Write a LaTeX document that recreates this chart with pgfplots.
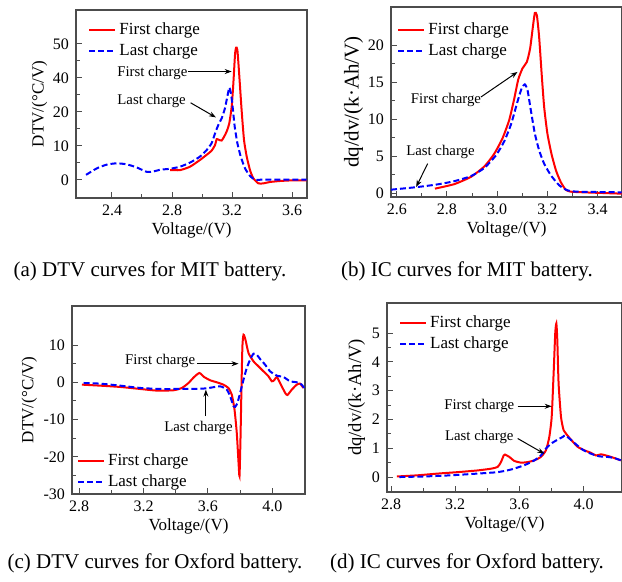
\documentclass[border=0pt]{standalone}
\usepackage{fontspec}
\setmainfont{Liberation Serif}
\usepackage{pgfplots}
\pgfplotsset{compat=1.18}
\usetikzlibrary{arrows.meta}

\definecolor{fc}{RGB}{255,0,0}
\definecolor{lc}{RGB}{0,0,255}

\pgfplotsset{
  panel/.style={
    scale only axis, anchor=south west,
    axis line style={black!70, line width=0.6pt},
    tick style={black!70, line width=0.5pt},
    tick align=inside, tick pos=left,
    major tick length=3pt, minor tick length=1.8pt,
    minor x tick num=1, minor y tick num=1,
    /pgf/number format/assume math mode=true,
    tick label style={font=\fontsize{8}{9}\selectfont},
    xticklabel style={/pgf/number format/.cd, fixed, fixed zerofill, precision=1},
    label style={font=\fontsize{8.5}{9}\selectfont},
    xlabel={Voltage/(V)},
    xlabel style={yshift=3.5pt},
    legend cell align=left,
    legend style={draw=none, fill=none, font=\fontsize{8.5}{9}\selectfont,
      inner sep=0pt, row sep=2.3pt, column sep=1pt, nodes={inner sep=0.5pt}},
    legend image code/.code={\draw[#1] (0pt,0pt) -- (13pt,0pt);},
  },
  first/.style={fc, line width=1pt, smooth, tension=0.35},
  last/.style={lc, line width=1pt, dash pattern=on 3pt off 1.5pt, smooth, tension=0.35},
}
\tikzset{
  note/.style={font=\fontsize{7.4}{8}\selectfont, inner sep=0pt},
  pointer/.style={-{Stealth[length=3.5pt,width=2.5pt]}, line width=0.5pt},
}

\begin{document}
\begin{tikzpicture}
\useasboundingbox (0,0) rectangle (311pt,291pt);

% (a) DTV, MIT
\begin{axis}[panel, at={(38pt,192pt)}, width=115.5pt, height=94pt,
  xmin=2.16, xmax=3.7, ymin=-5.3, ymax=50,
  xtick={2.4,2.8,3.2,3.6},
  ytick={0,10,20,30,40}, yticklabels={0,10,20,40,50},
  ylabel={DTV/(°C/V)}, ylabel style={yshift=-4pt},
  legend style={at={(0.052,0.94)}, anchor=north west}]
\addplot[first] coordinates {
(2.787,2.9) (2.853,2.9) (2.92,3.9) (2.987,5.9) (3.031,7.4) (3.064,8.6)
(3.087,10.3) (3.098,12.0) (3.113,11.8) (3.131,11.6) (3.147,12.7) (3.164,14.2)
(3.182,16.7) (3.198,21.6) (3.209,28.4) (3.22,36.8) (3.227,38.9) (3.236,38.2)
(3.249,30.4) (3.264,20.6) (3.28,11.8) (3.298,6.9) (3.32,2.9) (3.342,0.5)
(3.376,-1.0) (3.409,-1.0) (3.453,-0.6) (3.52,-0.3) (3.609,-0.1) (3.698,-0.1)
};
\addlegendentry{First charge}
\addplot[last] coordinates {
(2.227,1.5) (2.298,3.4) (2.364,4.5) (2.431,4.9) (2.498,4.6) (2.564,3.7)
(2.631,2.4) (2.676,2.5) (2.72,3.0) (2.787,3.3) (2.853,3.9) (2.92,5.1)
(2.987,6.9) (3.031,8.8) (3.064,10.8) (3.087,13.7) (3.109,16.2) (3.131,18.1)
(3.153,21.1) (3.171,25.0) (3.182,27.2) (3.193,25.5) (3.204,21.6) (3.218,15.7)
(3.236,10.8) (3.258,6.9) (3.287,3.4) (3.32,1.2) (3.353,0.1) (3.431,0.1) (3.698,0.1)
};
\addlegendentry{Last charge}
\node[note] at (axis cs:2.669,31.6) {First charge};
\draw[pointer] (axis cs:2.909,31.9) -- (axis cs:3.198,31.9);
\node[note] at (axis cs:2.664,23.3) {Last charge};
\draw[pointer] (axis cs:2.924,22.7) -- (axis cs:3.093,18.4);
\end{axis}

% (b) IC, MIT
\begin{axis}[panel, at={(195.5pt,192.5pt)}, width=115.5pt, height=95pt,
  xmin=2.577, xmax=3.497, ymin=-0.54, ymax=25.2,
  xtick={2.6,2.8,3.0,3.2,3.4}, ytick={0,5,10,15,20},
  ylabel={dq/dv/(k·Ah/V)},
  ylabel style={font=\fontsize{10.5}{11}\selectfont, yshift=-4.5pt},
  legend style={at={(0.026,0.926)}, anchor=north west}]
\addplot[first] coordinates {
(2.752,0.59) (2.829,1.2) (2.896,2.2) (2.949,3.6) (2.988,5.3) (3.021,7.4)
(3.048,9.9) (3.068,12.8) (3.084,15.4) (3.101,16.9) (3.118,17.75) (3.131,19.56)
(3.142,22.49) (3.15,24.39) (3.158,24.07) (3.167,21.14) (3.177,16.17) (3.187,11.65)
(3.2,8.04) (3.216,5.33) (3.234,3.07) (3.253,1.49) (3.273,0.45) (3.293,0.18)
(3.346,0.09) (3.496,-0.09)
};
\addlegendentry{First charge}
\addplot[last] coordinates {
(2.577,0.45) (2.683,0.81) (2.763,1.17) (2.829,1.6) (2.896,2.3) (2.949,3.4)
(2.995,5.1) (3.028,7.0) (3.055,9.3) (3.081,12.4) (3.097,14.14) (3.11,14.72)
(3.121,13.91) (3.134,11.2) (3.15,8.04) (3.167,5.78) (3.187,3.97) (3.214,2.39)
(3.247,1.04) (3.28,0.36) (3.32,0.18) (3.496,0.09)
};
\addlegendentry{Last charge}
\node[note] at (axis cs:2.796,12.56) {First charge};
\draw[pointer] (axis cs:2.935,13.0) -- (axis cs:3.081,16.4);
\node[note] at (axis cs:2.774,5.56) {Last charge};
\draw[pointer] (axis cs:2.723,3.97) -- (axis cs:2.677,0.81);
\end{axis}

% (c) DTV, Oxford
\begin{axis}[panel, at={(36pt,44pt)}, width=116.5pt, height=94pt,
  xmin=2.755, xmax=4.203, ymin=-30, ymax=20.5,
  xtick={2.8,3.2,3.6,4.0}, ytick={-30,-20,-10,0,10},
  ylabel={DTV/(°C/V)}, ylabel style={yshift=-3.5pt},
  legend style={at={(0.02,0.016)}, anchor=south west}]
\addplot[first] coordinates {
(2.817,-0.63) (2.93,-0.9) (3.055,-1.25) (3.179,-1.79) (3.282,-2.23) (3.386,-2.14)
(3.438,-1.52) (3.479,-0.18) (3.514,1.43) (3.547,2.5) (3.576,1.43) (3.614,0.54)
(3.655,0) (3.696,-0.63) (3.727,-1.52) (3.748,-3.31) (3.765,-7.33) (3.779,-13.6)
(3.79,-21.6) (3.796,-25.2) (3.802,-15.4) (3.808,-1.97) (3.814,9.65) (3.821,12.78)
(3.833,11.44) (3.852,7.86) (3.883,5.63) (3.914,4.29) (3.945,2.95) (3.976,1.61)
(3.997,0.27) (4.011,0.54) (4.028,1.43) (4.048,-0.18) (4.08,-2.86) (4.094,-3.4)
(4.121,-1.97) (4.152,-0.63) (4.172,-0.36) (4.193,-1.52)
};
\addlegendentry{First charge}
\addplot[last] coordinates {
(2.827,-0.18) (2.93,-0.36) (3.055,-0.9) (3.179,-1.52) (3.303,-1.79) (3.427,-1.79)
(3.51,-1.79) (3.593,-1.61) (3.675,-1.07) (3.717,-1.97) (3.738,-3.75) (3.759,-6.43)
(3.769,-6.6) (3.783,-5.54) (3.8,-2.86) (3.821,0.71) (3.841,3.84) (3.862,6.08)
(3.883,7.69) (3.903,7.42) (3.924,6.26) (3.955,4.74) (3.986,2.95) (4.028,1.79)
(4.069,1.43) (4.11,0.27) (4.152,0) (4.183,-0.63) (4.197,-1.52)
};
\addlegendentry{Last charge}
\node[note] at (axis cs:3.303,5.63) {First charge};
\draw[pointer] (axis cs:3.531,5.0) -- (axis cs:3.79,5.0);
\node[note] at (axis cs:3.541,-12.24) {Last charge};
\draw[pointer] (axis cs:3.587,-9.1) -- (axis cs:3.587,-1.97);
\end{axis}

% (d) IC, Oxford
\begin{axis}[panel, at={(193.5pt,45pt)}, width=117.5pt, height=94.5pt,
  xmin=2.775, xmax=4.239, ymin=-0.52, ymax=6.05,
  xtick={2.8,3.2,3.6,4.0}, ytick={0,1,2,3,4,5},
  ylabel={dq/dv/(k·Ah/V)},
  ylabel style={font=\fontsize{9.3}{10}\selectfont, yshift=-3.5pt},
  legend style={at={(0.05,0.942)}, anchor=north west}]
\addplot[first] coordinates {
(2.837,0.02) (2.966,0.06) (3.091,0.12) (3.215,0.17) (3.34,0.23) (3.423,0.29)
(3.464,0.35) (3.485,0.52) (3.502,0.75) (3.51,0.78) (3.537,0.7) (3.568,0.56)
(3.61,0.5) (3.651,0.52) (3.693,0.58) (3.734,0.7) (3.765,0.93) (3.786,1.39)
(3.801,2.09) (3.813,3.6) (3.823,4.99) (3.83,5.34) (3.836,4.76) (3.844,3.25)
(3.859,2.09) (3.875,1.63) (3.89,1.51) (3.921,1.3) (3.963,1.05) (4.004,0.93)
(4.046,0.84) (4.077,0.75) (4.108,0.79) (4.139,0.75) (4.17,0.7) (4.232,0.58)
};
\addlegendentry{First charge}
\addplot[last] coordinates {
(2.852,0) (3.008,0.02) (3.174,0.06) (3.34,0.12) (3.464,0.17) (3.547,0.26)
(3.63,0.41) (3.693,0.58) (3.734,0.75) (3.765,0.99) (3.797,1.16) (3.838,1.3)
(3.869,1.39) (3.884,1.45) (3.911,1.34) (3.952,1.14) (3.994,0.95) (4.046,0.81)
(4.097,0.72) (4.149,0.7) (4.191,0.66) (4.232,0.58)
};
\addlegendentry{Last charge}
\node[note] at (axis cs:3.35,2.46) {First charge};
\draw[pointer] (axis cs:3.589,2.46) -- (axis cs:3.801,2.46);
\node[note] at (axis cs:3.35,1.39) {Last charge};
\draw[pointer] (axis cs:3.589,1.34) -- (axis cs:3.755,0.81);
\end{axis}

\node[font=\fontsize{10.5}{12}\selectfont] at (75pt,155.5pt) {(a) DTV curves for MIT battery.};
\node[font=\fontsize{10.5}{12}\selectfont] at (233.5pt,155.5pt) {(b) IC curves for MIT battery.};
\node[font=\fontsize{10.5}{12}\selectfont] at (77.5pt,9.5pt) {(c) DTV curves for Oxford battery.};
\node[font=\fontsize{10.5}{12}\selectfont] at (233.5pt,9.5pt) {(d) IC curves for Oxford battery.};
\end{tikzpicture}
\end{document}
